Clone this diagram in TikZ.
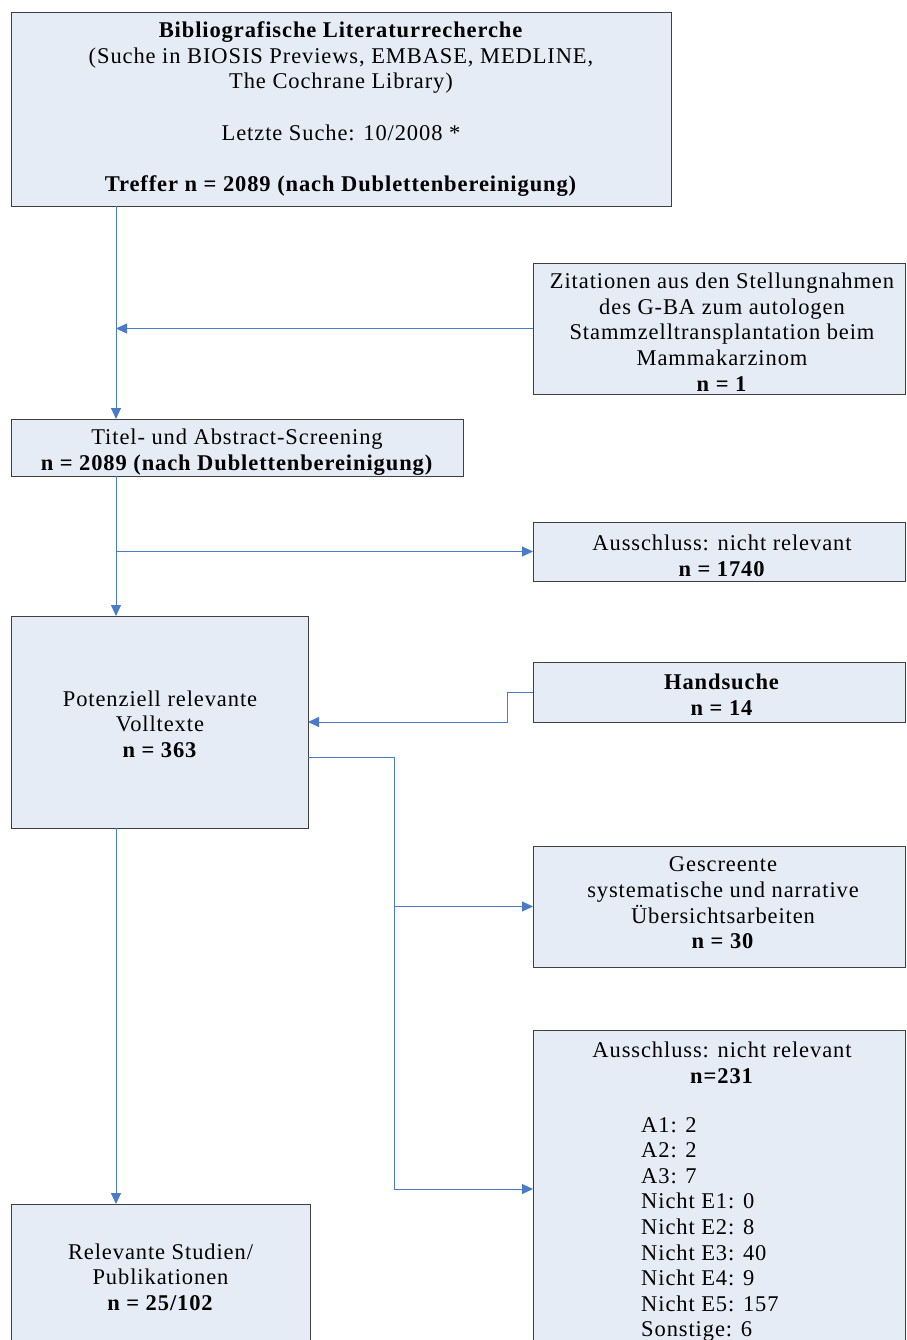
\documentclass[tikz,border=0pt]{standalone}
\usepackage{fontspec}
\setmainfont[LetterSpace=4]{Liberation Serif}
\usetikzlibrary{arrows.meta,calc}
\definecolor{boxfill}{HTML}{E6ECF6}
\definecolor{boxline}{HTML}{3F3F3F}
\definecolor{arrowblue}{HTML}{4A7BC8}
\begin{document}
\begin{tikzpicture}[x=1pt,y=-1pt,
  box/.style={draw=boxline, fill=boxfill, line width=0.9pt, anchor=north west, inner sep=0pt, outer sep=0pt},
  txt/.style={align=center, inner sep=0pt, font=\fontsize{22.5pt}{25.6pt}\selectfont},
  conn/.style={draw=arrowblue, line width=1pt},
  arr/.style={conn, -{Triangle[length=11pt,width=10pt]}}]
\useasboundingbox (0,0) rectangle (906,1340);
\fill[white] (0,0) rectangle (906,1340);
% boxes
\node[box, minimum width=660pt, minimum height=194pt] (b1) at (11,12) {};
\node[box, minimum width=372pt, minimum height=131pt] (b2) at (533,263) {};
\node[box, minimum width=452pt, minimum height=57pt] (b3) at (11,419) {};
\node[box, minimum width=372pt, minimum height=59pt] (b5) at (533,522) {};
\node[box, minimum width=297pt, minimum height=212pt] (b4) at (11,616) {};
\node[box, minimum width=372pt, minimum height=60pt] (b6) at (533,662) {};
\node[box, minimum width=372pt, minimum height=121pt] (b7) at (533,846) {};
\node[box, minimum width=372pt, minimum height=318pt] (b8) at (533,1030) {};
\node[box, minimum width=299pt, minimum height=200pt] (b9) at (11,1204) {};
% texts
\node[txt] (t1) at (341,109) {\textbf{Bibliografische Literaturrecherche}\\(Suche in BIOSIS Previews, EMBASE, MEDLINE,\\The Cochrane Library)\\[25.6pt]Letzte Suche: 10/2008 *\\[25.6pt]\textbf{Treffer n = 2089 (nach Dublettenbereinigung)}};
\node[txt] (t2) at (722,332) {Zitationen aus den Stellungnahmen\\des G-BA zum autologen\\Stammzelltransplantation beim\\Mammakarzinom\\\textbf{n = 1}};
\node[txt] (t3) at (237,452) {Titel- und Abstract-Screening\\\textbf{n = 2089 (nach Dublettenbereinigung)}};
\node[txt] (t5) at (722,555.5) {Ausschluss: nicht relevant\\\textbf{n = 1740}};
\node[txt] (t4) at (160,724) {Potenziell relevante\\Volltexte\\\textbf{n = 363}};
\node[txt] (t6) at (722,694.5) {\textbf{Handsuche}\\\textbf{n = 14}};
\node[txt] (t7) at (723,903) {Gescreente\\systematische und narrative\\Übersichtsarbeiten\\\textbf{n = 30}};
\node[txt] (t8a) at (722,1062.5) {Ausschluss: nicht relevant\\\textbf{n=231}};
\node[txt, align=left, anchor=west] (t8b) at (641,1229.5) {A1: 2\\A2: 2\\A3: 7\\Nicht E1: 0\\Nicht E2: 8\\Nicht E3: 40\\Nicht E4: 9\\Nicht E5: 157\\Sonstige: 6};
\node[txt] (t9) at (160.5,1277) {Relevante Studien/\\Publikationen\\\textbf{n = 25/102}};
% connectors
\coordinate (spine) at ($(b3.north west)+(105,0)$);
\coordinate (spine2) at ($(b4.north west)+(105,0)$);
\coordinate (trunk) at ($(b4.east)+(86,35)$);
\draw[arr] ($(b1.south west)+(105,0)$) -- (spine);
\draw[arr] (b2.west) -- (b2.west -| spine);
\draw[arr] ($(b3.south west)+(105,0)$) -- (spine2);
\draw[arr] (b5.west -| spine2) -- (b5.west);
\draw[arr] (b6.west) -- ++(-26,0) |- (b4.east);
\draw[arr] ($(b4.east)+(0,35)$) -- (trunk) |- (b8.west);
\draw[arr] (b7.west -| trunk) -- (b7.west);
\draw[arr] ($(b4.south west)+(105,0)$) -- ($(b9.north west)+(105,0)$);
\end{tikzpicture}
\end{document}
